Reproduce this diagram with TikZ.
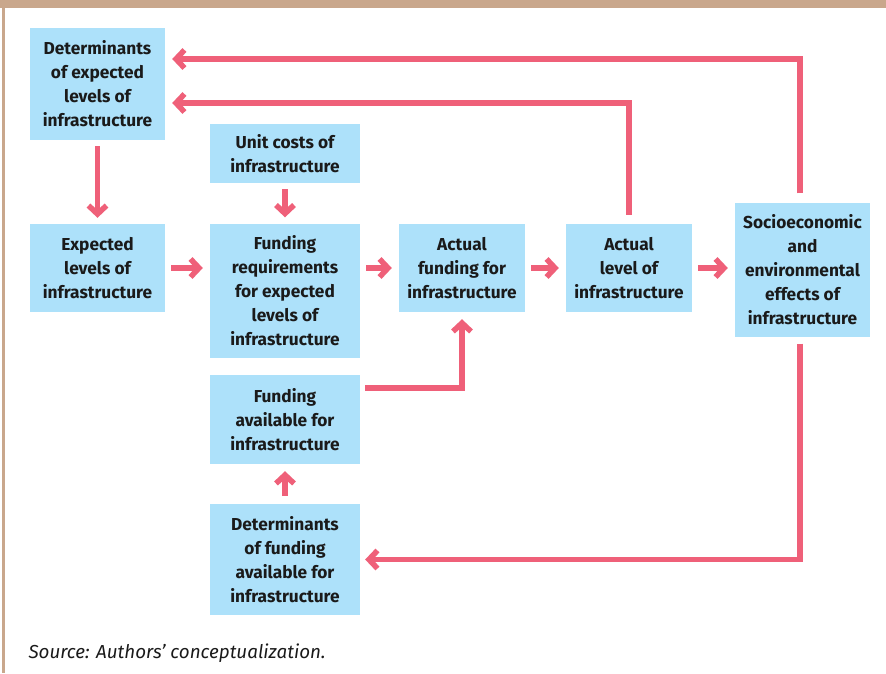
\documentclass[tikz,border=0pt]{standalone}
\usepackage{fontspec}
\setmainfont{Fira Sans}
\usetikzlibrary{arrows.meta,calc}
\definecolor{boxblue}{HTML}{ADE1FA}
\definecolor{arrowpink}{HTML}{EF6079}
\definecolor{framecol}{HTML}{C9A78C}
\definecolor{textblack}{HTML}{1A1A1A}
\begin{document}
\begin{tikzpicture}[x=1pt,y=-1pt,
  box/.style={fill=boxblue, draw=none, align=center, inner sep=0pt,
    font=\bfseries\fontsize{17.3}{24}\selectfont, text=textblack},
  arr/.style={draw=arrowpink, line width=5.5pt,
    -{Straight Barb[length=8.5pt,width=18pt]}}]
\fill[white] (0,0) rectangle (886,673);
\useasboundingbox (0,0) rectangle (886,673);
\fill[framecol] (0,0) rectangle (886,8);
\fill[framecol] (2,0) rectangle (5,673);

\node[box, minimum width=135pt, minimum height=112pt] (B1) at (97.5,84) {Determinants\\of expected\\levels of\\infrastructure};
\node[box, minimum width=135pt, minimum height=88pt] (B2) at (97.5,268) {Expected\\levels of\\infrastructure};
\node[box, minimum width=150pt, minimum height=59pt] (UC) at (285,153.5) {Unit costs of\\infrastructure};
\node[box, minimum width=150pt, minimum height=134pt] (FR) at (285,290.5) {Funding\\requirements\\for expected\\levels of\\infrastructure};
\node[box, minimum width=126pt, minimum height=88pt] (AF) at (462,268) {Actual\\funding for\\infrastructure};
\node[box, minimum width=126pt, minimum height=88pt] (AL) at (629,268) {Actual\\level of\\infrastructure};
\node[box, minimum width=135pt, minimum height=134pt] (SE) at (802.5,269.5) {Socioeconomic\\and\\environmental\\effects of\\infrastructure};
\node[box, minimum width=150pt, minimum height=89pt] (FA) at (285,419.5) {Funding\\available for\\infrastructure};
\node[box, minimum width=150pt, minimum height=111pt] (DF) at (285,559.5) {Determinants\\of funding\\available for\\infrastructure};

\draw[arr] ($(SE.north)+(-2.5,-9)$) |- ($(B1.east)+(7,-25)$);
\draw[arr] ($(AL.north)+(0,-9)$) |- ($(B1.east)+(7,19)$);
\draw[arr] ($(B1.south)+(0,6)$) -- ($(B2.north)+(0,-6)$);
\draw[arr] ($(UC.south)+(0,6)$) -- ($(FR.north)+(0,-6)$);
\draw[arr] ($(B2.east)+(6,0)$) -- ($(B2.east -| FR.west)+(-7,0)$);
\draw[arr] ($(AF.west -| FR.east)+(6,0)$) -- ($(AF.west)+(-7,0)$);
\draw[arr] ($(AF.east)+(6,0)$) -- ($(AL.west)+(-7,0)$);
\draw[arr] ($(AL.east)+(6,0)$) -- ($(AL.east -| SE.west)+(-7,0)$);
\draw[arr] ($(FA.east)+(5,-31.5)$) -| ($(AF.south)+(0,7)$);
\draw[arr] ($(SE.south)+(-2.5,7)$) |- ($(DF.east)+(5,0)$);
\draw[arr] ($(DF.north)+(0,-8)$) -- ($(FA.south)+(0,7)$);

\node[anchor=base west, font=\itshape\fontsize{18.8}{22}\selectfont, text=textblack] (src) at (25,658) {Source: Authors’ conceptualization.};
\end{tikzpicture}
\end{document}
